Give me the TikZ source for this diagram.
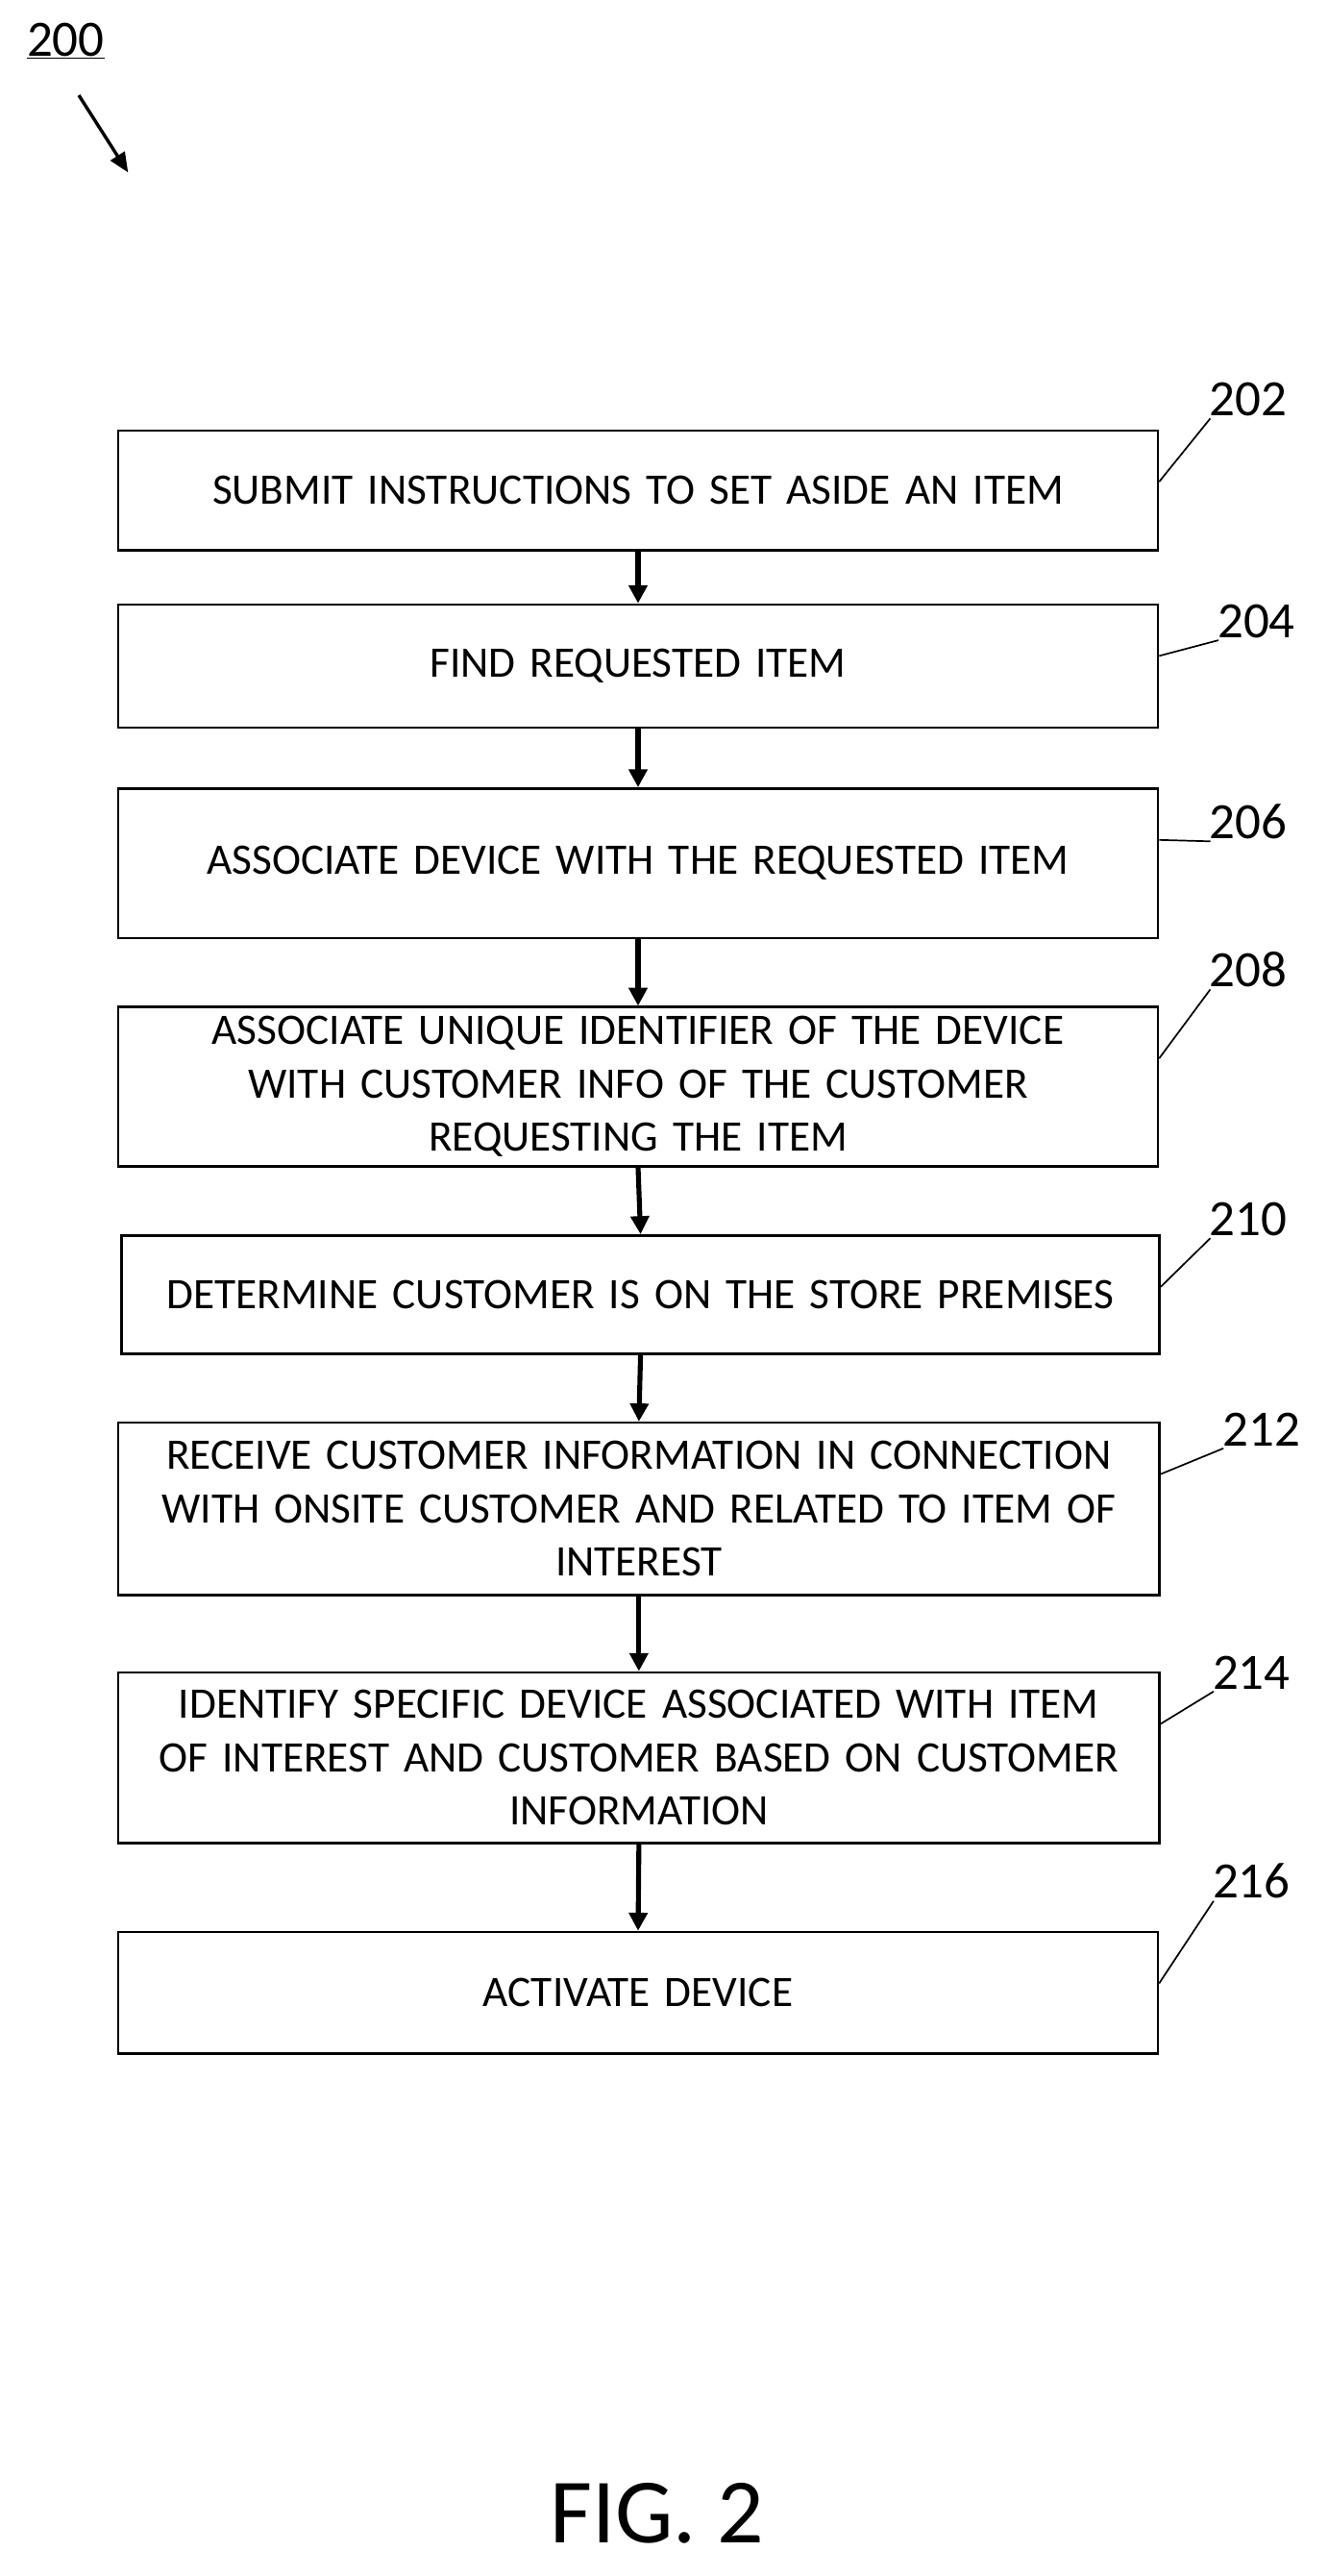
\documentclass[tikz,border=0pt]{standalone}
\usepackage{fontspec}
\setmainfont{Carlito}
\usetikzlibrary{arrows.meta}
\tikzset{
  stepbox/.style={draw, line width=1.5pt, minimum width=633pt, align=center, text width=620pt, font=\fontsize{26.5}{32.5}\selectfont, inner sep=0pt},
  flow/.style={line width=3pt, -{Triangle[length=11pt,width=11pt]}},
  ref/.style={font=\fontsize{31}{31}\selectfont},
  leader/.style={line width=1pt}
}
\begin{document}
\begin{tikzpicture}[x=1pt,y=-1pt]
  \useasboundingbox (0,0) rectangle (808,1568);
  % figure number
  \node[ref] (fig) at (40,25) {\underline{200}};
  \draw[line width=2pt, -{Triangle[length=12pt,width=10pt]}] (48,58) -- (78,105);
  % boxes
  \node[stepbox, minimum height=73pt] (b202) at (388.5,298.5) {SUBMIT INSTRUCTIONS TO SET ASIDE AN ITEM};
  \node[stepbox, minimum height=75pt] (b204) at (388.5,405.5) {FIND REQUESTED ITEM};
  \node[stepbox, minimum height=91pt] (b206) at (388.5,525.5) {ASSOCIATE DEVICE WITH THE REQUESTED ITEM};
  \node[stepbox, minimum height=97pt] (b208) at (388.5,661.5) {ASSOCIATE UNIQUE IDENTIFIER OF THE DEVICE\\WITH CUSTOMER INFO OF THE CUSTOMER\\REQUESTING THE ITEM};
  \node[stepbox, minimum height=72pt, minimum width=632pt] (b210) at (390,788) {DETERMINE CUSTOMER IS ON THE STORE PREMISES};
  \node[stepbox, minimum height=105pt, minimum width=634pt] (b212) at (389,918.5) {RECEIVE CUSTOMER INFORMATION IN CONNECTION\\WITH ONSITE CUSTOMER AND RELATED TO ITEM OF\\INTEREST};
  \node[stepbox, minimum height=104pt, minimum width=634pt] (b214) at (389,1070) {IDENTIFY SPECIFIC DEVICE ASSOCIATED WITH ITEM\\OF INTEREST AND CUSTOMER BASED ON CUSTOMER\\INFORMATION};
  \node[stepbox, minimum height=74pt] (b216) at (388.5,1213) {ACTIVATE DEVICE};
  % connectors
  \foreach \a/\b in {b202/b204, b204/b206, b206/b208, b208/b210, b210/b212, b212/b214, b214/b216}
    \draw[flow] (\a.south) -- (\b.north);
  % reference numerals
  \node[ref] (r202) at (760,243) {202};
  \node[ref] (r204) at (765,378) {204};
  \node[ref] (r206) at (760,500) {206};
  \node[ref] (r208) at (760,590) {208};
  \node[ref] (r210) at (760,742) {210};
  \node[ref] (r212) at (768,870) {212};
  \node[ref] (r214) at (762,1018) {214};
  \node[ref] (r216) at (762,1145) {216};
  \foreach \r/\b in {r202/b202, r204/b204, r206/b206, r208/b208, r210/b210, r212/b212, r214/b214, r216/b216}
    \draw[leader] ([xshift=4pt,yshift=2pt]\r.south west) -- ([yshift=-32pt]\b.north east);
  \node[font=\fontsize{56}{56}\selectfont] (title) at (400,1530) {FIG. 2};
\end{tikzpicture}
\end{document}
